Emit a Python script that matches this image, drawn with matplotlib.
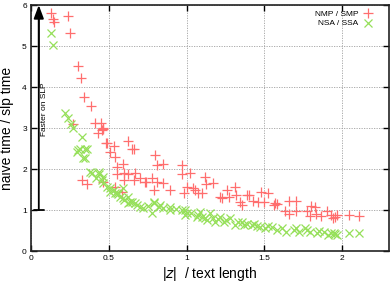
import matplotlib
matplotlib.use("Agg")
import matplotlib.pyplot as plt

plt.rcParams['font.family'] = ['Liberation Sans', 'DejaVu Sans']

# NMP / SMP  (red +)
red_x = [0.129, 0.14, 0.15, 0.236, 0.25, 0.304, 0.32,
         0.343, 0.386, 0.41, 0.45, 0.46, 0.465, 0.455, 0.43, 0.49, 0.51, 0.54, 0.62, 0.555, 0.60, 0.272,
         0.326, 0.362, 0.48, 0.53, 0.594, 0.647, 0.66, 0.55, 0.626, 0.67, 0.60, 0.66, 0.70, 0.74, 0.776,
         0.808, 0.85, 0.787, 0.89, 0.54, 0.583, 0.465, 0.797, 0.81, 0.847, 0.97, 0.97, 1.02, 1.0, 0.98,
         1.04, 1.07, 1.12, 1.125, 1.17, 1.215, 1.1, 0.733,
         1.26, 1.31, 1.27, 1.32, 1.344, 1.355, 1.387, 1.425, 1.46, 1.48, 1.52, 1.50, 1.56, 1.58, 1.655,
         1.70, 1.63, 1.655, 1.70, 1.77, 1.80, 1.826, 1.79, 1.83, 1.86, 1.90, 1.93, 1.95, 1.966, 1.94,
         2.04, 2.105, 1.225, 1.055, 1.40, 1.57]
red_y = [5.81, 5.67, 5.59, 5.74, 5.31, 4.51, 4.23,
         3.75, 3.54, 3.13, 3.13, 2.97, 3.0, 2.95, 2.87, 2.64, 2.41, 2.30, 2.68, 2.04, 1.91, 3.09,
         1.73, 1.63, 2.64, 2.56, 2.12, 2.50, 2.48, 1.89, 1.89, 1.91, 1.73, 1.73, 1.77, 1.69, 1.77,
         1.69, 1.65, 1.49, 1.50, 1.57, 1.45, 1.69, 2.34, 2.10, 2.12, 2.10, 1.87, 1.91, 1.57, 1.41,
         1.53, 1.41, 1.81, 1.63, 1.65, 1.32, 1.41, 1.69,
         1.50, 1.57, 1.31, 1.37, 1.20, 1.12, 1.37, 1.22, 1.20, 1.43, 1.41, 1.20, 1.12, 1.15, 1.22,
         1.23, 0.98, 0.90, 0.98, 0.98, 1.10, 1.08, 0.85, 0.90, 0.85, 0.98, 0.88, 0.84, 0.88, 0.80,
         0.88, 0.85, 1.30, 1.49, 1.37, 1.16]

# NSA / SSA  (green x)
green_x = [0.129, 0.143, 0.219, 0.24, 0.26, 0.272, 0.326, 0.304, 0.358, 0.336, 0.315, 0.347, 0.294, 0.347,
           0.38, 0.39, 0.44, 0.44, 0.42, 0.455, 0.465, 0.487, 0.51, 0.51, 0.54, 0.55, 0.57, 0.594, 0.60,
           0.626, 0.637, 0.68, 0.72, 0.79, 0.83, 0.89, 0.99, 1.0, 1.066,
           0.594, 0.626, 0.67, 0.776, 0.787, 0.82, 0.85, 0.894, 0.97, 0.99, 1.03, 1.076, 1.13, 1.18, 1.215,
           1.15, 1.17, 1.25, 1.28, 1.31, 1.355, 1.387, 1.43, 1.47, 1.505, 1.55, 1.58, 1.61, 1.64, 1.69,
           1.72, 1.77, 1.70, 1.76, 1.79, 1.84, 1.88, 1.91, 1.945, 1.966, 2.04, 2.105,
           0.46, 0.53, 0.56, 0.65, 0.70, 0.75, 0.93, 1.1, 1.2, 1.33, 1.45, 1.52, 1.85, 1.93, 1.95,
           1.087, 1.12, 1.24, 1.366, 1.42]
green_y = [5.33, 5.02, 3.36, 3.24, 3.11, 2.99, 2.79, 2.46, 2.50, 2.26, 2.48, 2.26, 2.42, 2.50,
           1.93, 1.90, 1.93, 1.89, 1.77, 1.73, 1.81, 1.57, 1.53, 1.45, 1.41, 1.41, 1.32, 1.29, 1.24,
           1.16, 1.20, 1.12, 1.04, 1.20, 1.12, 1.08, 1.0, 0.92, 0.84,
           1.53, 1.32, 1.16, 0.92, 1.16, 1.08, 1.04, 1.0, 1.0, 0.88, 0.92, 0.88, 0.76, 0.71, 0.84,
           0.92, 0.80, 0.76, 0.80, 0.63, 0.71, 0.67, 0.67, 0.58, 0.55, 0.58, 0.51, 0.55, 0.47, 0.51,
           0.47, 0.51, 0.55, 0.55, 0.47, 0.43, 0.47, 0.39, 0.43, 0.39, 0.43, 0.43,
           1.65, 1.50, 1.38, 1.20, 1.08, 1.10, 1.02, 0.82, 0.78, 0.70, 0.62, 0.60, 0.50, 0.45, 0.42,
           0.96, 0.80, 0.71, 0.63, 0.63]

xticks = [0, 0.5, 1, 1.5, 2]
xtick_labels = ['0', '0.5', '1', '1.5', '2']
yticks = [0, 1, 2, 3, 4, 5, 6]

fig = plt.figure(figsize=(3.9, 2.83), dpi=100)
ax = fig.add_axes([0.0795, 0.113, 0.918, 0.869])
ax.set_axisbelow(True)

ax.plot(red_x, red_y, linestyle='none', marker='+', markersize=7, markeredgewidth=0.9,
        color='#ff6e6e', label='NMP / SMP', zorder=3)
ax.plot(green_x, green_y, linestyle='none', marker='x', markersize=6, markeredgewidth=0.9,
        color='#96e05a', label='NSA / SSA', zorder=3)

ax.set_xlim(0, 2.3)
ax.set_ylim(0, 6)
ax.set_xticks(xticks)
ax.set_xticklabels(xtick_labels)
ax.set_yticks(yticks)
ax.tick_params(direction='in', length=4, width=1, top=True, right=True, labelsize=6, pad=3)
ax.grid(True, color='#a0a0a0', linestyle=(0, (1.5, 1.5)), linewidth=0.6)
for s in ax.spines.values():
    s.set_linewidth(1.2)
    s.set_color('#222222')
    s.set_zorder(4)

ax.set_xlabel('|$z$|  / text length', fontsize=10, labelpad=2)
ax.set_ylabel('naive time / slp time', fontsize=10, labelpad=6)

# arrow "Faster on SLP"
ax.annotate('', xy=(0.05, 5.9), xytext=(0.05, 1),
            arrowprops=dict(arrowstyle='|-|,widthA=0.35,widthB=0', lw=1.3, color='black',
                            shrinkA=0, shrinkB=0), zorder=5)
ax.annotate('', xy=(0.05, 6), xytext=(0.05, 4),
            arrowprops=dict(arrowstyle='-|>,head_width=0.3,head_length=0.8', lw=1.3, color='black',
                            shrinkA=0, shrinkB=0), zorder=5)
ax.text(0.085, 3.47, 'Faster on SLP', rotation=90, fontsize=6, ha='center', va='center')

ax.legend(loc='upper right', bbox_to_anchor=(0.975, 1.005), frameon=False, fontsize=6,
          markerfirst=False, handlelength=1.2, handletextpad=0.6, labelspacing=0.15,
          borderpad=0.3)

fig.savefig('out.png', dpi=100)
